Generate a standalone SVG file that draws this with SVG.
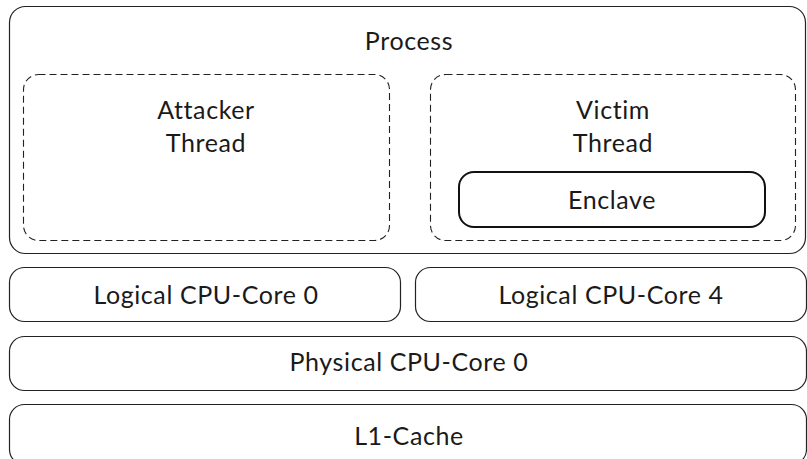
<svg xmlns="http://www.w3.org/2000/svg" width="807" height="459" viewBox="0 0 807 459">
<style>
.box{fill:#fff;stroke:#222;stroke-width:1.2}
.dash{fill:none;stroke:#222;stroke-width:1.1;stroke-dasharray:7,4}
.encl{fill:#fff;stroke:#111;stroke-width:2}
text{font-family:"Lato","DejaVu Sans",sans-serif;font-size:25px;letter-spacing:0.6px;fill:#1a1a1a;text-anchor:middle}
</style>
<rect width="807" height="459" fill="#fff"/>
<g id="process">
<rect class="box" x="9.5" y="6.5" width="796" height="247" rx="16"/>
<text x="409" y="50">Process</text>
</g>
<g id="attacker">
<rect class="dash" x="23.5" y="74.5" width="366" height="166" rx="15"/>
<text x="206" y="119">Attacker</text>
<text x="206" y="152">Thread</text>
</g>
<g id="victim">
<rect class="dash" x="430.5" y="74.5" width="365" height="166" rx="15"/>
<text x="613" y="119">Victim</text>
<text x="613" y="152">Thread</text>
</g>
<g id="enclave">
<rect class="encl" x="459" y="172" width="306" height="55" rx="15"/>
<text x="612" y="209">Enclave</text>
</g>
<g id="logical0">
<rect class="box" x="9.5" y="267.5" width="391" height="54" rx="15"/>
<text x="206" y="304">Logical CPU-Core 0</text>
</g>
<g id="logical4">
<rect class="box" x="415.5" y="267.5" width="391" height="54" rx="15"/>
<text x="611" y="304">Logical CPU-Core 4</text>
</g>
<g id="physical">
<rect class="box" x="9.5" y="336.5" width="797" height="54" rx="15"/>
<text x="409" y="371">Physical CPU-Core 0</text>
</g>
<g id="l1">
<rect class="box" x="9.5" y="404.5" width="797" height="60" rx="15"/>
<text x="409" y="445">L1-Cache</text>
</g>
<g id="connectors"></g>
</svg>
